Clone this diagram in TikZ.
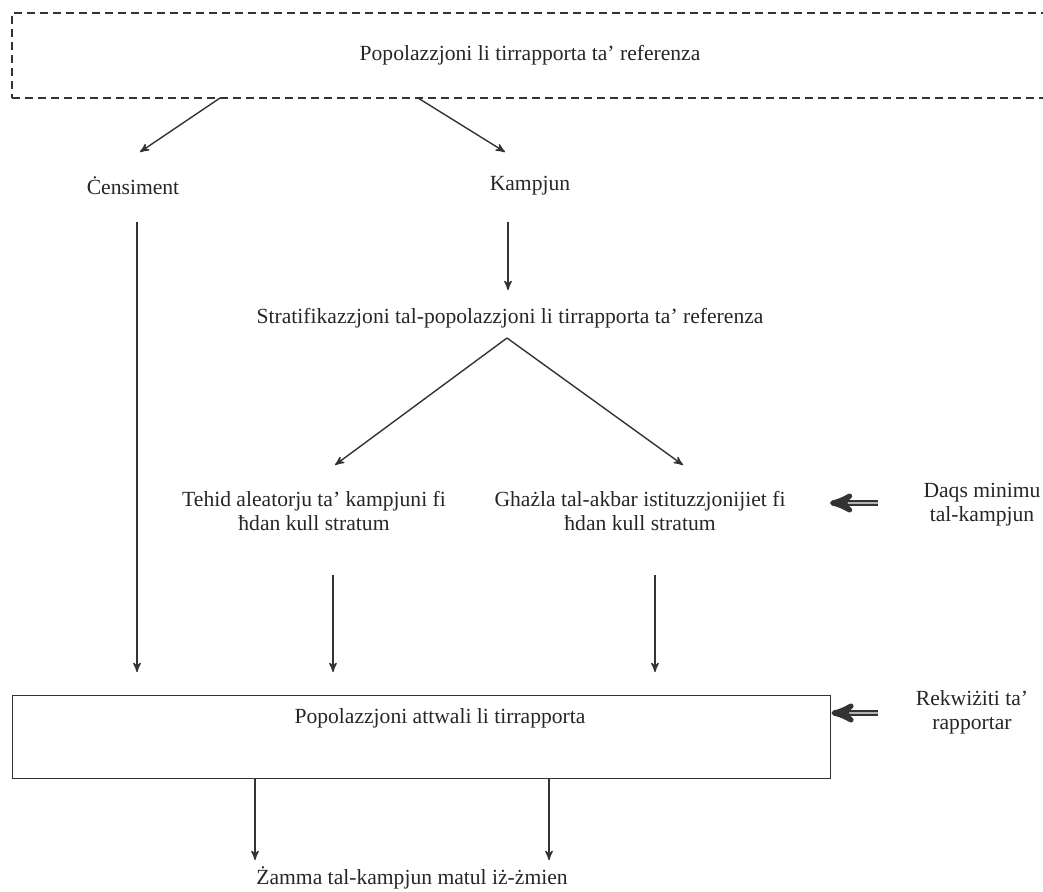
\documentclass[tikz,border=0pt]{standalone}
\usepackage{fontspec}
\setmainfont{Liberation Serif}
\usepackage{tikz}
\usetikzlibrary{arrows}

\begin{document}
\begin{tikzpicture}[x=0.5pt,y=-0.5pt,>=stealth',line width=0.7pt,
	every node/.style={font=\fontsize{10.8}{12}\selectfont,align=center,text=black!85},
	flow/.style={->,draw=black!80},
	feed/.style={->,draw=black!80,double=gray!60,double distance=1.2pt}]
	\useasboundingbox (0,0) rectangle (1043,891);
	
	% reference population and the two ways
	\node[draw=black!80,dashed,dash pattern=on 4pt off 2.5pt,minimum width=524pt,minimum height=42.5pt] (ref) at (536,55.5) {};
	\node (reftxt) at (530,55) {Popolazzjoni li tirrapporta ta' referenza};
	\node (cens) at (133,186) {Ċensiment};
	\node (kamp) at (530,186) {Kampjun};
	
	\coordinate (rA) at (220,98);
	\coordinate (rB) at (418,98);
	\coordinate (cA) at (140,152);
	\coordinate (kA) at (505,152);
	\draw[flow] (rA) -- (cA);
	\draw[flow] (rB) -- (kA);
	
	% sample branch
	\node (strat) at (510,318) {Stratifikazzjoni tal-popolazzjoni li tirrapporta ta' referenza};
	\coordinate (kB) at (508,222);
	\coordinate (sA) at (508,290);
	\draw[flow] (kB) -- (sA);
	
	\coordinate (apex) at (507,338);
	\node (rand) at (314,511) {Tehid aleatorju ta' kampjuni fi\\ħdan kull stratum};
	\node (big) at (640,511) {Ghażla tal-akbar istituzzjonijiet fi\\ħdan kull stratum};
	\coordinate (tA) at (335,465);
	\coordinate (tB) at (683,465);
	\draw[flow] (apex) -- (tA);
	\draw[flow] (apex) -- (tB);
	
	\node (daqs) at (982,505) {Daqs minimu\\tal-kampjun};
	\coordinate (dA) at (878,503);
	\coordinate (dB) at (830,503);
	\draw[feed] (dA) -- (dB);
	
	% current population
	\node[draw=black!80,minimum width=409pt,minimum height=41.5pt,anchor=north west] (act) at (12,695) {};
	\node (acttxt) at (440,718) {Popolazzjoni attwali li tirrapporta};
	\node (rekw) at (972,712) {Rekwiżiti ta'\\rapportar};
	\coordinate (eA) at (878,713);
	\draw[feed] (eA) -- (act.east |- eA);
	
	\coordinate (cB) at (137,222);
	\coordinate (cC) at (137,672);
	\draw[flow] (cB) -- (cC);
	\coordinate (tC) at (333,575);
	\coordinate (tD) at (333,672);
	\draw[flow] (tC) -- (tD);
	\coordinate (tE) at (655,575);
	\coordinate (tF) at (655,672);
	\draw[flow] (tE) -- (tF);
	
	% keeping the sample
	\node (keep) at (412,878) {Żamma tal-kampjun matul iż-żmien};
	\coordinate (aA) at (255,860);
	\coordinate (aB) at (549,860);
	\draw[flow] (act.south -| aA) -- (aA);
	\draw[flow] (act.south -| aB) -- (aB);
\end{tikzpicture}
\end{document}
